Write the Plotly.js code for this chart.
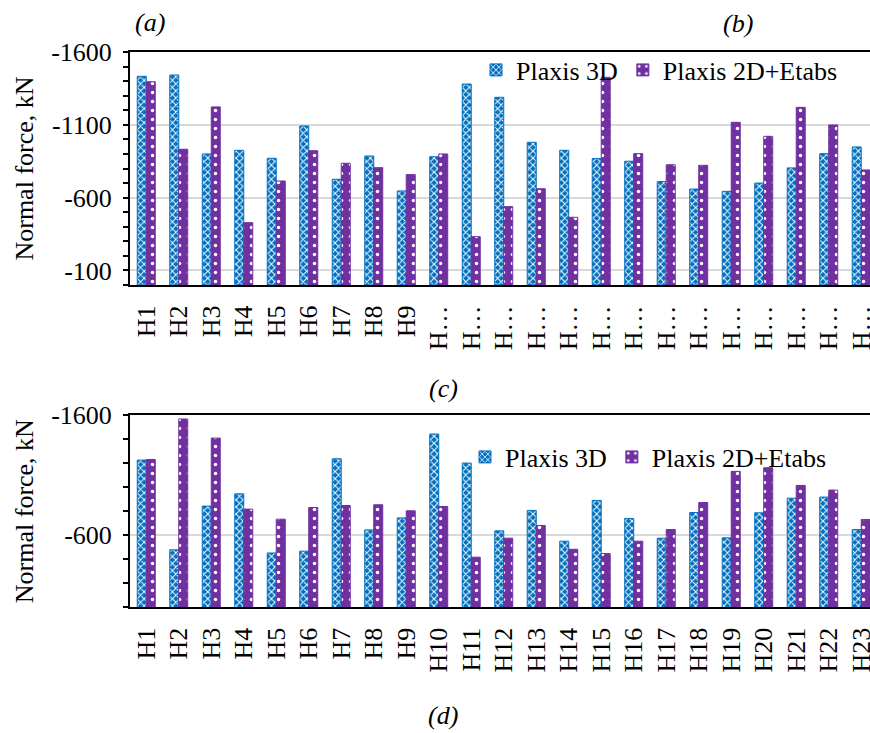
<!DOCTYPE html>
<html>
<head>
<meta charset="utf-8">
<script src="https://cdn.plot.ly/plotly-3.0.1.min.js"></script>
<style>html,body{margin:0;padding:0;background:#fff;}#chart{width:870px;height:733px;}</style>
</head>
<body>
<div id="chart"></div>
<script>
// ---- data ----
var categories = ['H1','H2','H3','H4','H5','H6','H7','H8','H9','H10','H11','H12','H13','H14','H15','H16','H17','H18','H19','H20','H21','H22','H23'];
var topTickLabels = ['H1','H2','H3','H4','H5','H6','H7','H8','H9','H…','H…','H…','H…','H…','H…','H…','H…','H…','H…','H…','H…','H…','H…'];
var seriesNames = ['Plaxis 3D', 'Plaxis 2D+Etabs'];
// panel (a)-(b)
var top3D = [-1433,-1442,-900,-925,-870,-1092,-726,-886,-646,-881,-1380,-1289,-980,-925,-868,-850,-710,-659,-643,-700,-804,-902,-948];
var top2D = [-1396,-932,-1223,-428,-714,-922,-836,-806,-758,-900,-332,-538,-661,-465,-1426,-902,-826,-822,-1117,-1021,-1220,-1099,-790];
// panel (c)-(d)
var bot3D = [-1225,-478,-842,-944,-452,-467,-1236,-644,-744,-1442,-1200,-636,-806,-550,-889,-739,-575,-789,-578,-786,-908,-917,-647];
var bot2D = [-1230,-1567,-1408,-817,-733,-830,-847,-853,-803,-839,-417,-575,-681,-483,-447,-550,-647,-872,-1131,-1161,-1014,-975,-731];
// axis ticks
var topYTicks = [-1600,-1100,-600,-100];
var topYTickText = ['-1600','-1100','-600','-100'];
var botYTicks = [-1600,-600];
var botYTickText = ['-1600','-600'];
var panelLabels = ['(a)','(b)','(c)','(d)'];
var yTitle = 'Normal force, kN';

// ---- styling ----
var BLUE = '#0070C0', PURPLE = '#7030A0';
var FONT = 'Liberation Serif, Times New Roman, serif';
var W = 870, H = 733;
function px(x){ return x / W; }
function py(y){ return 1 - y / H; }

function minorVals(step){ var a=[]; for (var v=0; v>=-1600; v-=step) a.push(v); return a; }

function barTrace(y, name, color, shape, xa, ya, legend, showlegend){
  return {
    type: 'bar', x: categories, y: y, name: name,
    xaxis: xa, yaxis: ya, legend: legend, showlegend: showlegend,
    marker: {
      color: color,
      line: {color: color, width: 1},
      pattern: shape === 'x'
        ? {shape: 'x', fgcolor: '#ffffff', bgcolor: color, size: 5, solidity: 0.35, fillmode: 'replace'}
        : {shape: '.', fgcolor: '#ffffff', bgcolor: color, size: 9, solidity: 0.12, fillmode: 'replace'}
    },
    hoverinfo: 'x+y'
  };
}

var data = [
  barTrace(top3D, seriesNames[0], BLUE, 'x', 'x', 'y', 'legend', true),
  barTrace(top2D, seriesNames[1], PURPLE, '.', 'x', 'y', 'legend', true),
  barTrace(bot3D, seriesNames[0], BLUE, 'x', 'x2', 'y2', 'legend2', true),
  barTrace(bot2D, seriesNames[1], PURPLE, '.', 'x2', 'y2', 'legend2', true)
];

var xRange = [-0.5, 22.27];
function xAxis(anchor, ticktext){
  return {
    domain: [px(130), 1], anchor: anchor, range: xRange, type: 'category',
    tickmode: 'array', tickvals: categories, ticktext: ticktext,
    tickangle: -90, ticks: '', showgrid: false, zeroline: false,
    showline: true, linecolor: '#000', linewidth: 2, mirror: true,
    tickfont: {family: FONT, size: 26, color: '#000'},
    ticklabelstandoff: 8, automargin: false, fixedrange: true
  };
}
function yAxis(anchor, domain, tv, tt, minorStep){
  return {
    domain: domain, anchor: anchor, range: [0, -1600],
    tickmode: 'array', tickvals: tv, ticktext: tt,
    ticks: 'outside', ticklen: 5, tickwidth: 2, tickcolor: '#000',
    minor: {tickmode: 'array', tickvals: minorVals(minorStep), ticks: 'outside', ticklen: 5, tickwidth: 2, tickcolor: '#000', showgrid: false},
    showgrid: true, gridcolor: '#d9d9d9', gridwidth: 2, zeroline: false,
    showline: true, linecolor: '#000', linewidth: 2,
    tickfont: {family: FONT, size: 26, color: '#000'},
    ticklabelstandoff: 6,
    title: {text: yTitle, font: {family: FONT, size: 26, color: '#000'}, standoff: 10},
    automargin: false, fixedrange: true
  };
}

var legendFont = {family: FONT, size: 26, color: '#000'};
function panelLabel(t, x, y, ya){
  return {text: t, x: px(x), y: py(y), xref: 'paper', yref: 'paper', xanchor: 'center', yanchor: ya || 'middle',
          showarrow: false, font: {family: FONT, size: 26, style: 'italic', color: '#000'}};
}
var layout = {
  width: W, height: H,
  margin: {l: 0, r: 0, t: 0, b: 0},
  paper_bgcolor: '#fff', plot_bgcolor: '#fff',
  barmode: 'group', bargap: 0.446, bargroupgap: 0,
  font: {family: FONT, size: 26, color: '#000'},
  xaxis: xAxis('y', topTickLabels),
  yaxis: yAxis('x', [py(285), py(52)], topYTicks, topYTickText, 100),
  xaxis2: xAxis('y2', categories),
  yaxis2: yAxis('x2', [py(607.3), py(415)], botYTicks, botYTickText, 200),
  legend: {orientation: 'h', x: px(476), y: py(70), xanchor: 'left', yanchor: 'middle',
           bgcolor: 'rgba(0,0,0,0)', font: legendFont, itemclick: false, itemdoubleclick: false},
  legend2: {orientation: 'h', x: px(465), y: py(457), xanchor: 'left', yanchor: 'middle',
           bgcolor: 'rgba(0,0,0,0)', font: legendFont, itemclick: false, itemdoubleclick: false},
  annotations: [
    panelLabel(panelLabels[0], 150, 22),
    panelLabel(panelLabels[1], 738, 24),
    panelLabel(panelLabels[2], 443, 388),
    panelLabel(panelLabels[3], 443, 732, 'bottom')
  ],
  showlegend: true
};

Plotly.newPlot('chart', data, layout, {staticPlot: true, displayModeBar: false});
</script>
</body>
</html>
